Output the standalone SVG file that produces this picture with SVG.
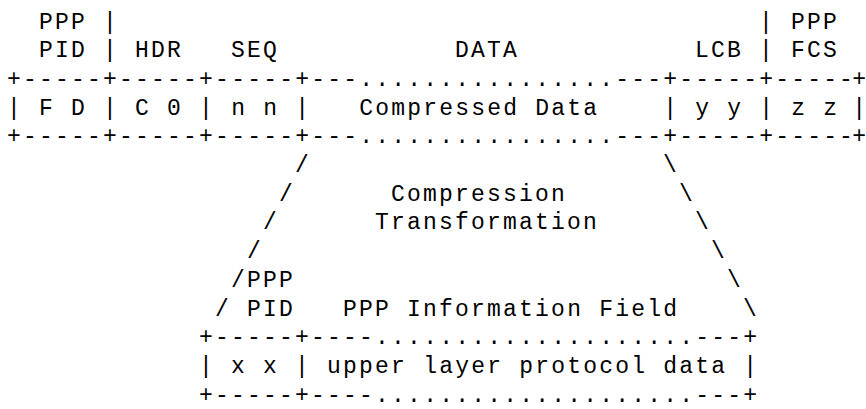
<svg xmlns="http://www.w3.org/2000/svg" width="866" height="409" viewBox="0 0 866 409" xml:space="preserve">
<style>
text { font-family: "Liberation Mono", "DejaVu Sans Mono", monospace; font-size: 23px; letter-spacing: 2.2px; fill: #000; white-space: pre; }
text.edge { letter-spacing: -0.6px; }
</style>
<rect width="866" height="409" fill="#fff"/>
<g id="top-labels">
<text x="39.1" y="28.5">PPP</text>
<text x="103.1" y="28.5">|</text>
<text x="759.1" y="28.5">|</text>
<text x="791.1" y="28.5">PPP</text>
<text x="39.1" y="57.2">PID</text>
<text x="103.1" y="57.2">|</text>
<text x="135.1" y="57.2">HDR</text>
<text x="231.1" y="57.2">SEQ</text>
<text x="455.1" y="57.2">DATA</text>
<text x="695.1" y="57.2">LCB</text>
<text x="759.1" y="57.2">|</text>
<text x="791.1" y="57.2">FCS</text>
</g>
<g id="compressed-frame">
<text x="7.1" y="85.9">+-----+-----+-----+---................---+-----+----</text>
<text class="edge" x="839.1" y="85.9">-+</text>
<text x="7.1" y="114.6">| F D | C 0 | n n |   Compressed Data    | y y | z z</text>
<text class="edge" x="852.3" y="114.6">|</text>
<text x="7.1" y="143.3">+-----+-----+-----+---................---+-----+----</text>
<text class="edge" x="839.1" y="143.3">-+</text>
</g>
<g id="connectors">
<text x="295.1" y="172">/</text>
<text x="279.1" y="200.7">/</text>
<text x="263.1" y="229.4">/</text>
<text x="247.1" y="258.1">/</text>
<text x="231.1" y="286.8">/</text>
<text x="215.1" y="315.5">/</text>
<text x="663.1" y="172">\</text>
<text x="679.1" y="200.7">\</text>
<text x="695.1" y="229.4">\</text>
<text x="711.1" y="258.1">\</text>
<text x="727.1" y="286.8">\</text>
<text x="743.1" y="315.5">\</text>
</g>
<g id="transformation-label">
<text x="391.1" y="200.7">Compression</text>
<text x="375.1" y="229.4">Transformation</text>
</g>
<g id="info-labels">
<text x="247.1" y="286.8">PPP</text>
<text x="247.1" y="315.5">PID</text>
<text x="343.1" y="315.5">PPP Information Field</text>
</g>
<g id="info-frame">
<text x="199.1" y="344.2">+-----+----....................---+</text>
<text x="199.1" y="372.9">| x x | upper layer protocol data |</text>
<text x="199.1" y="401.6">+-----+----....................---+</text>
</g>
</svg>
